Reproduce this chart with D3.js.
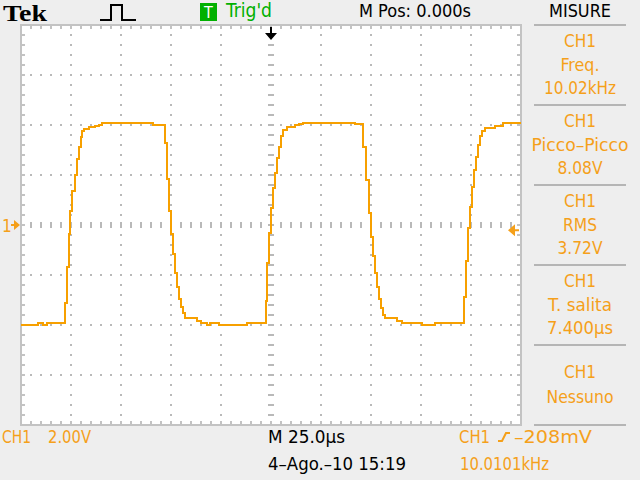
<!DOCTYPE html>
<html><head><meta charset="utf-8">
<script src="https://cdn.jsdelivr.net/npm/d3@7"></script>
<style>
html,body{margin:0;padding:0;background:#eeeeee;}
svg{display:block;}
text{font-family:"DejaVu Sans Condensed","DejaVu Sans","Liberation Sans Narrow",sans-serif;font-stretch:condensed;}
</style></head><body>
<svg id="c" width="640" height="480"></svg>
<script>
// ---- data (time in µs relative to trigger, CH1 volts) ----
const timeUs = [-125,-116.5,-114,-112,-103,-102.2,-101.2,-100.4,-99.4,-98.2,-97.2,-96.2,-95.2,-94.4,-93.4,-91.2,-87.9,-85.9,-84.4,-58.9,
  -53.2,-52.2,-51.2,-50.2,-49.2,-48.2,-47.2,-46.2,-45,-44,-43,-37.2,-35.2,-32.2,-30.5,-26,-12.2,
  -2.7,-1.9,-1.0,0,1.0,2.2,3.2,4.2,5.2,6.2,7.9,12,14.2,15.9,42,46.2,47.5,48.9,49.9,50.9,51.9,52.9,53.9,54.9,55.9,57,62.9,65.4,75.4,82,
  96.5,97.5,98.5,99.5,100.5,101.5,102.5,103.5,104.5,105.5,106.9,112,115.9,125];
const volts = [-4.00,-3.92,-4.00,-3.92,-3.11,-1.67,-0.37,0.56,1.37,2.00,2.64,3.13,3.53,3.77,3.85,3.93,3.97,4.01,4.08,4.01,
  3.29,1.85,0.57,-0.37,-1.17,-1.93,-2.47,-2.97,-3.28,-3.53,-3.73,-3.83,-3.91,-4.00,-3.91,-4.00,-3.91,
  -3.03,-1.51,-0.31,0.67,1.47,2.09,2.67,3.13,3.56,3.80,3.93,4.00,4.04,4.09,4.04,3.13,1.80,0.47,-0.47,-1.24,-1.93,-2.47,-2.96,-3.33,-3.60,-3.73,-3.83,-3.91,-4.00,-3.91,
  -2.87,-1.43,-0.13,0.73,1.51,2.20,2.73,3.20,3.56,3.77,3.87,3.96,4.09,4.09];
const voltsPerDiv = 2.00;
const usPerDiv = 25.0;
const hDivs = 10, vDivs = 8, minorPerDiv = 5;
const groundV = 0;
const triggerLevelV = -0.208;
const triggerTimeUs = 0;
const measureChannel = ["CH1","CH1","CH1","CH1","CH1"];
const measureNames = ["Freq.","Picco\u2013Picco","RMS","T. salita","Nessuno"];
const measureValues = ["10.02kHz","8.08V","3.72V","7.400\u00b5s",""];
const topLabels = {brand:"Tek", trig:"Trig'd", mpos:"M Pos: 0.000s", menu:"MISURE"};
const bottomLabels = {ch:"CH1", scale:"2.00V", time:"M 25.0\u00b5s", date:"4\u2013Ago.\u201310 15:19",
  trigCh:"CH1", trigLevel:"\u2013208mV", freq:"10.0101kHz"};

// ---- layout ----
const ORANGE = "#f5a01a", TRACE = "#f7a000", GRID = "#b9b9b9", FRAME = "#c3c3c3";
const svg = d3.select("#c");
const x = d3.scaleLinear().domain([-hDivs/2*usPerDiv, hDivs/2*usPerDiv]).range([21,521]);
const y = d3.scaleLinear().domain([-vDivs/2*voltsPerDiv, vDivs/2*voltsPerDiv]).range([425,25]);

function txt(s, px, py, o) {
  const t = svg.append("text").attr("x",px).attr("y",py).text(s)
    .attr("fill", o.fill || "#000").attr("font-size", o.size || 18)
    .attr("text-anchor", o.anchor || "start");
  if (o.w) t.attr("textLength", o.w).attr("lengthAdjust","spacingAndGlyphs");
  if (o.family) t.style("font-family", o.family);
  if (o.weight) t.attr("font-weight", o.weight);
  return t;
}

// plot area
svg.append("rect").attr("x",x.range()[0]).attr("y",y.range()[1])
  .attr("width",x.range()[1]-x.range()[0]).attr("height",y.range()[0]-y.range()[1]).attr("fill","#fff");

const g = svg.append("g").attr("shape-rendering","crispEdges");
const minorT = usPerDiv/minorPerDiv, minorV = voltsPerDiv/minorPerDiv;
const tMinor = d3.range(1, hDivs*minorPerDiv).map(i => x.domain()[0] + i*minorT);
const vMinor = d3.range(1, vDivs*minorPerDiv).map(i => y.domain()[0] + i*minorV);
const tMajor = d3.range(1, hDivs).map(i => x.domain()[0] + i*usPerDiv).filter(t => t !== 0);
const vMajor = d3.range(1, vDivs).map(i => y.domain()[0] + i*voltsPerDiv).filter(v => v !== 0);

// dotted grid
vMajor.forEach(v => tMinor.forEach(t => {
  g.append("rect").attr("x", Math.round(x(t))-1).attr("y", Math.round(y(v))-1).attr("width",2).attr("height",2).attr("fill",GRID);
}));
tMajor.forEach(t => vMinor.forEach(v => {
  g.append("rect").attr("x", Math.round(x(t))-1).attr("y", Math.round(y(v))-1).attr("width",2).attr("height",2).attr("fill",GRID);
}));
// center cross ticks
tMinor.forEach(t => g.append("rect").attr("x", Math.round(x(t))-1).attr("y", y(0)-3).attr("width",2).attr("height",6).attr("fill",GRID));
vMinor.forEach(v => g.append("rect").attr("x", x(0)-3).attr("y", Math.round(y(v))-1).attr("width",6).attr("height",2).attr("fill",GRID));
// border ticks
tMinor.forEach(t => {
  g.append("rect").attr("x", Math.round(x(t))-1).attr("y", y.range()[1]).attr("width",2).attr("height",4).attr("fill",FRAME);
  g.append("rect").attr("x", Math.round(x(t))-1).attr("y", y.range()[0]-4).attr("width",2).attr("height",4).attr("fill",FRAME);
});
vMinor.forEach(v => {
  g.append("rect").attr("x", x.range()[0]).attr("y", Math.round(y(v))-1).attr("width",4).attr("height",2).attr("fill",FRAME);
  g.append("rect").attr("x", x.range()[1]-4).attr("y", Math.round(y(v))-1).attr("width",4).attr("height",2).attr("fill",FRAME);
});
// frame
g.append("rect").attr("x",x.range()[0]).attr("y",y.range()[1])
  .attr("width",x.range()[1]-x.range()[0]).attr("height",y.range()[0]-y.range()[1])
  .attr("fill","none").attr("stroke",FRAME).attr("stroke-width",2);

// trace
svg.append("clipPath").attr("id","clip").append("rect")
  .attr("x",x.range()[0]).attr("y",y.range()[1]-2).attr("width",x.range()[1]-x.range()[0]).attr("height",y.range()[0]-y.range()[1]+4);
const pts = timeUs.map((t,i) => [t, volts[i]]);
svg.append("path").datum(pts).attr("clip-path","url(#clip)")
  .attr("d", d3.line().x(d => x(d[0])).y(d => y(d[1])).curve(d3.curveStepAfter))
  .attr("fill","none").attr("stroke",TRACE).attr("stroke-width",2).attr("shape-rendering","crispEdges");

// ground marker (left)
const gy = y(groundV);
txt("1", 2, gy+7, {fill:ORANGE, size:17});
svg.append("path").attr("d",`M11,${gy-1}h3v-4l6,5l-6,5v-4h-3z`).attr("fill",ORANGE);
// trigger level marker (right)
const ty = y(triggerLevelV);
svg.append("path").attr("d",`M508,${ty}l7,-6v5h4v2h-4v5z`).attr("fill",ORANGE);
// trigger position marker (top)
const tx = x(triggerTimeUs);
svg.append("path").attr("d",`M${tx-1},27h2v6h5l-6,7l-6,-7h5z`).attr("fill","#000");

// top bar
txt(topLabels.brand, 3, 21, {family:"'Liberation Serif','DejaVu Serif',serif", weight:"bold", size:23, w:44});
svg.append("path").attr("d","M100,20H111V5H122V20H136").attr("fill","none").attr("stroke","#000").attr("stroke-width",2);
svg.append("rect").attr("x",200).attr("y",3).attr("width",17).attr("height",18).attr("fill","#00b000");
txt("T", 208.5, 18, {fill:"#fff", size:16, anchor:"middle"});
txt(topLabels.trig, 226, 17, {fill:"#00b000", size:19, w:46});
txt(topLabels.mpos, 359, 17, {size:18, w:112});
txt(topLabels.menu, 580, 17, {size:18, anchor:"middle", w:62});

// measurement panel
const panelTop = 25, panelH = 80;
d3.range(0, measureNames.length + 1).forEach(i => {
  svg.append("rect").attr("x",534).attr("y",panelTop + i*panelH - 1).attr("width",92).attr("height",2).attr("fill","#b5b5b5");
});
const nameW = [39, 97, 34, 64, 67];
const valW = [72, 45, 45, 66, 0];
measureNames.forEach((nm, i) => {
  const top = panelTop + i*panelH;
  if (measureValues[i]) {
    txt(measureChannel[i], 580, top+22, {fill:ORANGE, anchor:"middle", w:32});
    txt(nm, 580, top+46, {fill:ORANGE, anchor:"middle", w:nameW[i]});
    txt(measureValues[i], 580, top+69, {fill:ORANGE, anchor:"middle", w:valW[i]});
  } else {
    txt(measureChannel[i], 580, top+33, {fill:ORANGE, anchor:"middle", w:32});
    txt(nm, 580, top+58, {fill:ORANGE, anchor:"middle", w:nameW[i]});
  }
});

// bottom bar
txt(bottomLabels.ch, 2, 443, {fill:ORANGE, w:29});
txt(bottomLabels.scale, 48, 443, {fill:ORANGE, w:43});
txt(bottomLabels.time, 268, 443, {w:77});
txt(bottomLabels.date, 268, 470, {w:138});
txt(bottomLabels.trigCh, 459, 443, {fill:ORANGE, w:31});
svg.append("path").attr("d","M498,441H502L506,433H510").attr("fill","none").attr("stroke",ORANGE).attr("stroke-width",2);
txt(bottomLabels.trigLevel, 514, 443, {fill:ORANGE, w:78});
txt(bottomLabels.freq, 460, 470, {fill:ORANGE, w:89});
</script>
</body></html>
